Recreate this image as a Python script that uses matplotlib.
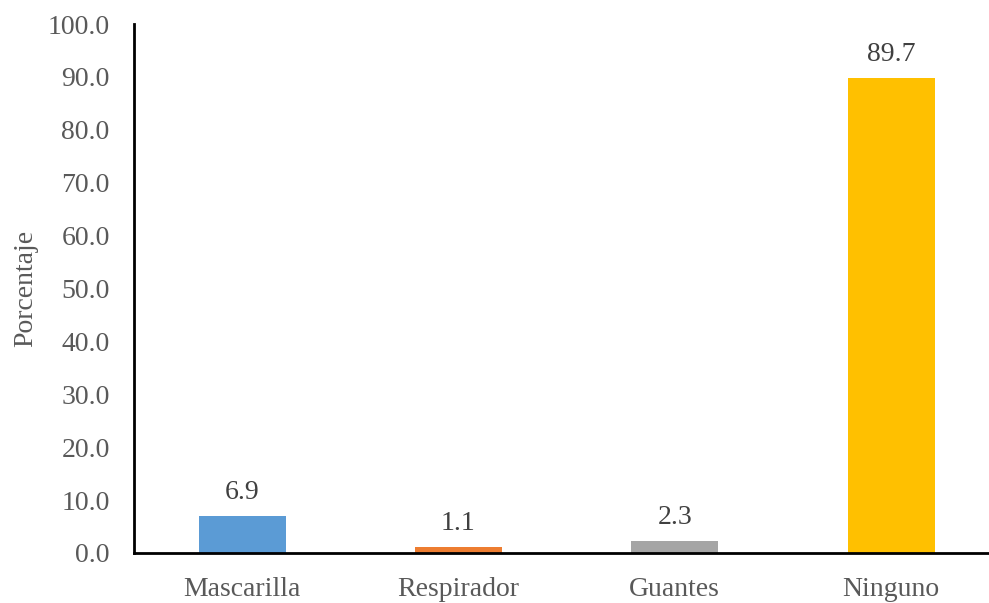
import matplotlib
matplotlib.use("Agg")
import matplotlib.pyplot as plt

categories = ["Mascarilla", "Respirador", "Guantes", "Ninguno"]
values = [6.9, 1.1, 2.3, 89.7]
colors = ["#5B9BD5", "#ED7D31", "#A5A5A5", "#FFC000"]
yticks = [0, 10, 20, 30, 40, 50, 60, 70, 80, 90, 100]

plt.rcParams["font.family"] = ["Liberation Serif", "DejaVu Serif"]

W, H = 989, 603
fig = plt.figure(figsize=(W / 100, H / 100), dpi=100)
left, right, bottom, top = 134, 989, 553, 24
ax = fig.add_axes([left / W, 1 - bottom / H, (right - left) / W, (bottom - top) / H])

x = list(range(len(categories)))
bars = ax.bar(x, values, width=0.402, color=colors, zorder=2)

ax.set_xlim(-0.5, -0.5 + (right - left) / 216.3)
ax.set_ylim(0, 100)
ax.set_yticks(yticks)
ax.set_yticklabels([f"{v:.1f}" for v in yticks])
ax.set_xticks(x)
ax.set_xticklabels(categories)

for spine in ["top", "right"]:
    ax.spines[spine].set_visible(False)
for spine in ["left", "bottom"]:
    ax.spines[spine].set_linewidth(2.0)
    ax.spines[spine].set_color("black")

ax.tick_params(axis="y", length=0, pad=17.5, labelsize=20, labelcolor="#595959")
ax.tick_params(axis="x", length=0, pad=17, labelsize=20, labelcolor="#595959")

ax.set_ylabel("Porcentaje", fontsize=20, color="#595959", labelpad=7)

for rect, v in zip(bars, values):
    ax.annotate(f"{v:.1f}", (rect.get_x() + rect.get_width() / 2, v),
                xytext=(0, 8), textcoords="offset points",
                ha="center", va="bottom", fontsize=20, color="#404040")

fig.savefig("out.png", dpi=100)
